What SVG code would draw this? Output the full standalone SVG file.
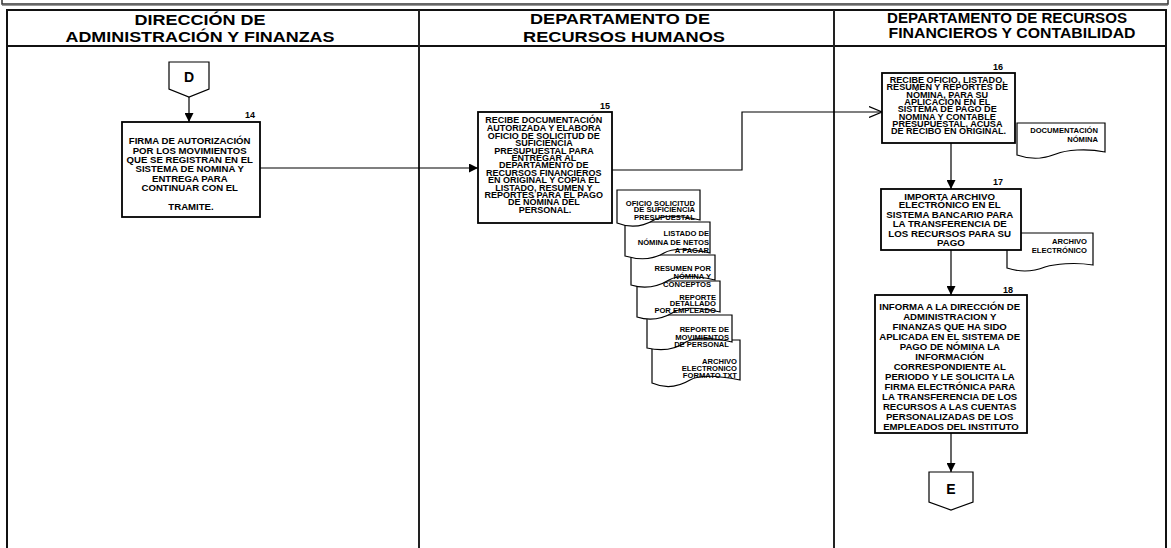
<svg xmlns="http://www.w3.org/2000/svg" width="1171" height="548" viewBox="0 0 1171 548">
  <style>
    .frame { fill: none; stroke: #111; stroke-width: 2; }
    .lane { stroke: #222; stroke-width: 2; }
    .hdr { font-family: "Liberation Sans", Arial, sans-serif; font-weight: bold; font-size: 14px; fill: #000; text-anchor: middle; }
    .box { fill: #fff; stroke: #000; stroke-width: 1.8; }
    .doc { fill: #fff; stroke: #000; stroke-width: 1.2; }
    .conn { fill: none; stroke: #000; stroke-width: 1.2; }
    .txt { font-family: "Liberation Sans", Arial, sans-serif; font-weight: bold; fill: #000; text-anchor: middle; }
    .dtxt { font-family: "Liberation Sans", Arial, sans-serif; font-weight: bold; font-size: 7.6px; fill: #000; text-anchor: end; }
    .num { font-family: "Liberation Sans", Arial, sans-serif; font-weight: bold; font-size: 9px; fill: #000; }
    .lbl { font-family: "Liberation Sans", Arial, sans-serif; font-weight: bold; font-size: 14px; fill: #000; text-anchor: middle; }
  </style>
  <defs>
    <marker id="arrow" viewBox="0 0 10 10" refX="10" refY="5" markerWidth="9" markerHeight="9" markerUnits="userSpaceOnUse" orient="auto">
      <path d="M0,0 L10,5 L0,10 Z" fill="#000"/>
    </marker>
    <marker id="openArrow" viewBox="0 0 14 12" refX="13" refY="6" markerWidth="14" markerHeight="12" markerUnits="userSpaceOnUse" orient="auto">
      <path d="M0,0.5 L13,6 L0,11.5" fill="none" stroke="#000" stroke-width="1.2"/>
    </marker>
  </defs>

  <rect width="1171" height="548" fill="#fff"/>

  <!-- page frame and swimlanes -->
  <g id="frame">
    <rect x="2" y="-6" width="1166" height="10" fill="none" stroke="#333" stroke-width="1.5"/>
    <line x1="2" y1="5.5" x2="1168" y2="5.5" stroke="#999" stroke-width="1"/>
    <rect class="frame" x="7" y="10" width="1159" height="560"/>
    <line class="frame" x1="7" y1="46" x2="1166" y2="46"/>
    <line class="lane" x1="419" y1="10" x2="419" y2="548"/>
    <line class="lane" x1="834" y1="10" x2="834" y2="548"/>
    <text class="hdr" x="200" y="25" textLength="131" lengthAdjust="spacingAndGlyphs">DIRECCIÓN DE</text>
    <text class="hdr" x="200" y="42" textLength="269" lengthAdjust="spacingAndGlyphs">ADMINISTRACIÓN Y FINANZAS</text>
    <text class="hdr" x="620" y="24" textLength="180" lengthAdjust="spacingAndGlyphs">DEPARTAMENTO DE</text>
    <text class="hdr" x="624" y="42" textLength="202" lengthAdjust="spacingAndGlyphs">RECURSOS HUMANOS</text>
    <text class="hdr" x="1007" y="23" textLength="240" lengthAdjust="spacingAndGlyphs">DEPARTAMENTO DE RECURSOS</text>
    <text class="hdr" x="1012" y="38" textLength="247" lengthAdjust="spacingAndGlyphs">FINANCIEROS Y CONTABILIDAD</text>
  </g>

  <!-- connectors -->
  <g id="connectors">
    <line class="conn" x1="189" y1="97" x2="189" y2="122" marker-end="url(#arrow)"/>
    <line class="conn" x1="260" y1="168" x2="478" y2="168" marker-end="url(#arrow)"/>
    <polyline class="conn" points="612,170 742,170 742,112 882,112" marker-end="url(#openArrow)"/>
    <line class="conn" x1="951" y1="143" x2="951" y2="189" marker-end="url(#arrow)"/>
    <line class="conn" x1="951" y1="250" x2="951" y2="295" marker-end="url(#arrow)"/>
    <line class="conn" x1="951" y1="433" x2="951" y2="472" marker-end="url(#arrow)"/>
  </g>

  <!-- off-page connector D -->
  <g id="connD">
    <path class="doc" d="M169,62 H209 V89 L189,97 L169,89 Z"/>
    <text class="lbl" x="189" y="82">D</text>
  </g>

  <!-- step 14 -->
  <g id="step14">
    <rect class="box" x="122" y="122" width="138" height="95"/>
    <text class="num" x="245" y="118">14</text>
    <text class="txt" font-size="9.6">
      <tspan x="191" y="144">FIRMA DE AUTORIZACIÓN</tspan>
      <tspan x="191" y="153.5">POR LOS MOVIMIENTOS</tspan>
      <tspan x="191" y="163">QUE SE REGISTRAN EN EL</tspan>
      <tspan x="191" y="172">SISTEMA DE NOMINA Y</tspan>
      <tspan x="191" y="181.5">ENTREGA PARA</tspan>
      <tspan x="191" y="191">CONTINUAR CON EL</tspan>
      <tspan x="191" y="209.5">TRAMITE.</tspan>
    </text>
  </g>

  <!-- documents of step 15 (drawn back to front) -->
  <g id="doc15f">
    <path class="doc" d="M652,340 H740 V380 C720,376 700,374 690,380 C680,386 668,390 652,383 Z"/>
    <text class="dtxt"><tspan x="737" y="363.5">ARCHIVO</tspan><tspan x="737" y="370.5">ELECTRONICO</tspan><tspan x="737" y="377.5">FORMATO TXT</tspan></text>
  </g>
  <g id="doc15e">
    <path class="doc" d="M647,315 H732 V342 C714,338 696,336 686,342 C676,349 664,352 647,348 Z"/>
    <text class="dtxt"><tspan x="729" y="331.5">REPORTE DE</tspan><tspan x="729" y="339.5">MOVIMIENTOS</tspan><tspan x="729" y="346.5">DE PERSONAL</tspan></text>
  </g>
  <g id="doc15d">
    <path class="doc" d="M637,281 H720 V312 C702,308 684,306 674,312 C664,318 652,322 637,317 Z"/>
    <text class="dtxt"><tspan x="716" y="299.5">REPORTE</tspan><tspan x="716" y="306">DETALLADO</tspan><tspan x="716" y="312.5">POR EMPLEADO</tspan></text>
  </g>
  <g id="doc15c">
    <path class="doc" d="M631,255 H715 V280 C697,276 679,274 669,280 C659,286 647,290 631,285 Z"/>
    <text class="dtxt"><tspan x="711" y="270.5">RESUMEN POR</tspan><tspan x="711" y="278.5">NÓMINA  Y</tspan><tspan x="711" y="286.5">CONCEPTOS</tspan></text>
  </g>
  <g id="doc15b">
    <path class="doc" d="M625,222 H710 V253 C692,249 674,247 664,253 C654,259 642,261 625,256 Z"/>
    <text class="dtxt"><tspan x="709" y="235.5">LISTADO DE</tspan><tspan x="709" y="244.5">NÓMINA DE NETOS</tspan><tspan x="709" y="252.5">A PAGAR</tspan></text>
  </g>
  <g id="doc15a">
    <path class="doc" d="M617,190 H700 V220 C682,216 664,214 654,220 C644,226 632,229 617,223 Z"/>
    <text class="dtxt"><tspan x="695" y="205.5">OFICIO SOLICITUD</tspan><tspan x="695" y="212">DE SUFICIENCIA</tspan><tspan x="695" y="219.5">PRESUPUESTAL</tspan></text>
  </g>

  <!-- step 15 -->
  <g id="step15">
    <rect class="box" x="478" y="112" width="134" height="111"/>
    <text class="num" x="600" y="109">15</text>
    <text class="txt" font-size="9">
      <tspan x="545" y="123.3">RECIBE DOCUMENTACIÓN</tspan>
      <tspan x="545" y="131">AUTORIZADA Y ELABORA</tspan>
      <tspan x="545" y="138.6">OFICIO DE SOLICITUD DE</tspan>
      <tspan x="545" y="146.2">SUFICIENCIA</tspan>
      <tspan x="545" y="153.6">PRESUPUESTAL PARA</tspan>
      <tspan x="545" y="161">ENTREGAR AL</tspan>
      <tspan x="545" y="168.4">DEPARTAMENTO  DE</tspan>
      <tspan x="545" y="175.8">RECURSOS FINANCIEROS</tspan>
      <tspan x="545" y="183.2">EN ORIGINAL Y COPIA EL</tspan>
      <tspan x="545" y="190.6">LISTADO, RESUMEN Y</tspan>
      <tspan x="545" y="198">REPORTES PARA EL PAGO</tspan>
      <tspan x="545" y="205.4">DE NÓMINA DEL</tspan>
      <tspan x="545" y="212.8">PERSONAL.</tspan>
    </text>
  </g>

  <!-- step 16 -->
  <g id="doc16">
    <path class="doc" d="M1017,123 H1105 V152 C1086,148 1066,150 1056,154 C1046,158 1034,161 1017,155 Z"/>
    <text class="dtxt"><tspan x="1098" y="132.5">DOCUMENTACIÓN</tspan><tspan x="1098" y="141.5">NÓMINA</tspan></text>
  </g>
  <g id="step16">
    <rect class="box" x="882" y="73" width="133" height="70"/>
    <text class="num" x="993" y="70">16</text>
    <text class="txt" font-size="9.1">
      <tspan x="948.5" y="83">RECIBE OFICIO, LISTADO,</tspan>
      <tspan x="948.5" y="90.3">RESUMEN Y REPORTES DE</tspan>
      <tspan x="948.5" y="97.6">NÓMINA, PARA SU</tspan>
      <tspan x="948.5" y="104.9">APLICACIÓN EN EL</tspan>
      <tspan x="948.5" y="112.2">SISTEMA DE PAGO DE</tspan>
      <tspan x="948.5" y="119.5">NOMINA Y CONTABLE</tspan>
      <tspan x="948.5" y="126.8">PRESUPUESTAL, ACUSA</tspan>
      <tspan x="948.5" y="134.1">DE RECIBO EN ORIGINAL.</tspan>
    </text>
  </g>

  <!-- step 17 -->
  <g id="doc17">
    <path class="doc" d="M1007,233 H1093 V265 C1074,262 1055,264 1045,267 C1035,271 1022,273 1007,268 Z"/>
    <text class="dtxt"><tspan x="1087" y="244">ARCHIVO</tspan><tspan x="1087" y="253">ELECTRÓNICO</tspan></text>
  </g>
  <g id="step17">
    <rect class="box" x="881" y="189" width="140" height="61"/>
    <text class="num" x="993" y="185">17</text>
    <text class="txt" font-size="9.7">
      <tspan x="951" y="199.5">IMPORTA ARCHIVO</tspan>
      <tspan x="951" y="208.2">ELECTRÓNICO EN EL</tspan>
      <tspan x="951" y="217.6">SISTEMA BANCARIO PARA</tspan>
      <tspan x="951" y="227">LA TRANSFERENCIA DE</tspan>
      <tspan x="951" y="236.6">LOS RECURSOS PARA SU</tspan>
      <tspan x="951" y="246.3">PAGO</tspan>
    </text>
  </g>

  <!-- step 18 -->
  <g id="step18">
    <rect class="box" x="875" y="295" width="152" height="138"/>
    <text class="num" x="1003" y="293">18</text>
    <text class="txt" font-size="9.6">
      <tspan x="951" y="309.5">INFORMA A LA DIRECCIÓN DE</tspan>
      <tspan x="951" y="319.5">ADMINISTRACION  Y</tspan>
      <tspan x="951" y="329.5">FINANZAS QUE HA SIDO</tspan>
      <tspan x="951" y="339.5">APLICADA EN EL SISTEMA DE</tspan>
      <tspan x="951" y="349.5">PAGO DE NÓMINA LA</tspan>
      <tspan x="951" y="359.5">INFORMACIÓN</tspan>
      <tspan x="951" y="369.5">CORRESPONDIENTE AL</tspan>
      <tspan x="951" y="379.5">PERIODO Y LE SOLICITA LA</tspan>
      <tspan x="951" y="389.5">FIRMA ELECTRÓNICA PARA</tspan>
      <tspan x="951" y="399.5">LA  TRANSFERENCIA DE LOS</tspan>
      <tspan x="951" y="409.5">RECURSOS A LAS CUENTAS</tspan>
      <tspan x="951" y="419.5">PERSONALIZADAS DE LOS</tspan>
      <tspan x="951" y="429.5">EMPLEADOS DEL INSTITUTO</tspan>
    </text>
  </g>

  <!-- off-page connector E -->
  <g id="connE">
    <path class="doc" d="M929,472 H973 V502 L951,510 L929,502 Z"/>
    <text class="lbl" x="951" y="494">E</text>
  </g>
</svg>
